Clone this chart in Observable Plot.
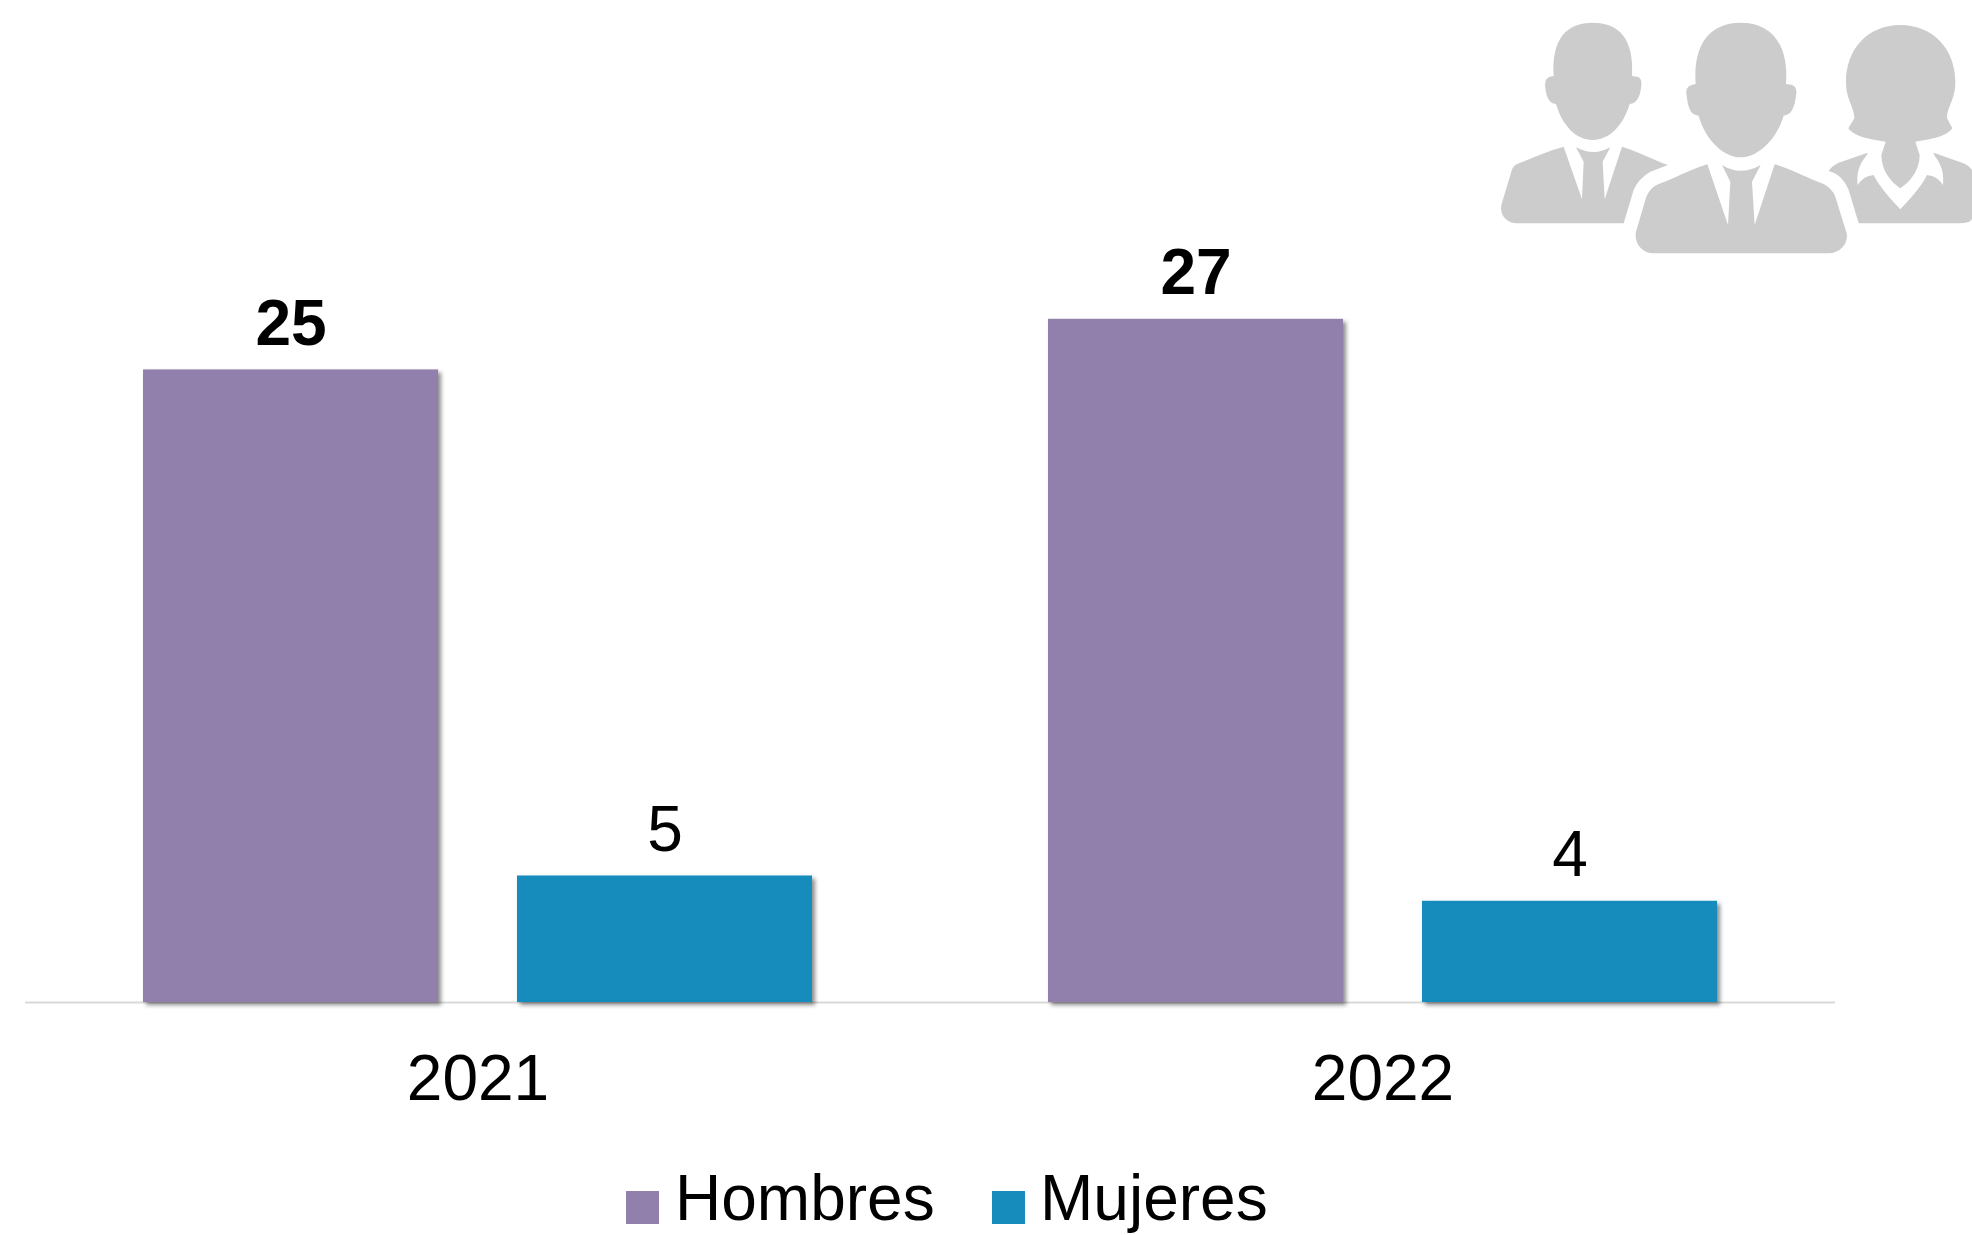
<!DOCTYPE html>
<html lang="es">
<head>
<meta charset="utf-8">
<script src="https://cdn.jsdelivr.net/npm/d3@7"></script>
<script src="https://cdn.jsdelivr.net/npm/@observablehq/plot@0.6"></script>
<style>
html,body{margin:0;padding:0;background:#fff;width:1972px;height:1235px;overflow:hidden;font-family:"Liberation Sans",Arial,sans-serif}
#wrap{position:relative;width:1972px;height:1235px;overflow:hidden}
#legend{position:absolute;left:0;top:1150px;width:1972px;height:85px;color:#000;font-size:64px}
#legend .sw{position:absolute;width:33px;height:33px;top:41px}
#legend .lb{position:absolute;top:18px;line-height:60px;height:60px;white-space:nowrap}
#icon{position:absolute;left:1472px;top:0;width:500px;height:270px}
</style>
</head>
<body>
<div id="wrap">
<div id="chart"></div>
<svg id="icon" viewBox="0 0 1500 810" fill="#cccccc" aria-hidden="true">
<path d="M245,228 C238,115 285,68 362,68 C440,68 487,115 480,228 L495,230 Q510,232 508,255 C505,290 495,310 473,312 C455,375 412,420 362,420 C312,420 270,375 252,312 C230,310 222,290 219,255 Q218,230 245,228 Z"/>
<path d="M275,440 C220,455 180,475 135,492 Q122,498 118,515 L88,615 C82,645 105,670 135,670 L455,670 L485,570 Q500,535 535,515 L588,495 C540,478 500,455 450,440 L398,598 L392,485 L415,442 Q365,470 312,442 L335,485 L330,598 Z"/>
<path d="M671,252 C662,125 720,68 806,68 C892,68 951,125 942,252 L958,254 Q975,258 973,280 C968,325 958,345 935,347 C915,415 860,472 806,472 C752,472 698,415 680,347 C655,345 648,325 643,280 Q640,256 671,252 Z"/>
<path d="M706,493 C650,510 610,535 560,552 Q535,562 523,590 L492,695 C485,730 510,760 545,760 L1070,760 C1105,760 1130,730 1124,700 L1090,590 Q1080,565 1055,552 C1005,535 965,510 908,493 L848,675 L840,545 L866,495 Q806,530 750,495 L775,545 L768,675 Z"/>
<path d="M1285,75 C1385,75 1450,150 1450,245 C1450,300 1425,320 1425,355 L1441,385 C1425,410 1375,418 1330,425 L1343,465 C1343,510 1315,545 1285,565 C1255,545 1228,510 1228,465 L1241,425 C1195,418 1145,410 1129,385 L1147,355 C1147,320 1122,300 1122,245 C1122,150 1185,75 1285,75 Z"/>
<path d="M1070,513 C1100,520 1120,545 1130,570 L1160,670 L1465,670 Q1500,668 1500,655 L1500,510 Q1490,495 1470,488 L1385,458 C1383,470 1420,490 1413,555 C1400,535 1385,528 1365,525 C1345,565 1310,600 1285,628 C1260,600 1225,565 1205,525 C1185,528 1170,535 1157,555 C1150,490 1187,470 1187,458 L1100,488 Q1080,497 1070,513 Z"/>
</svg>
<div id="legend"></div>
</div>
<script>
const years = ["2021", "2022"];
const series = ["Hombres", "Mujeres"];
const colors = ["#9180ab", "#168cbd"];
const hombres = [25, 27];
const mujeres = [5, 4];

const rows = years.flatMap((year, i) => [
  {year, group: series[0], value: hombres[i]},
  {year, group: series[1], value: mujeres[i]}
]);

const labelStyle = {
  x: "group", y: "value", fx: "year", text: d => String(d.value),
  fontSize: 64, fill: "#000", lineAnchor: "bottom", dy: -25
};

const chart = Plot.plot({
  width: 1972,
  height: 1150,
  marginLeft: 25,
  marginRight: 137,
  marginTop: 0,
  marginBottom: 148,
  style: {fontFamily: "'Liberation Sans', Arial, sans-serif", background: "#fff", color: "#000"},
  fx: {domain: years, padding: 0, label: null},
  x: {domain: series, paddingInner: 0.21, paddingOuter: 0.312, axis: null},
  y: {domain: [0, 39.6], axis: null},
  color: {domain: series, range: colors},
  marks: [
    Plot.ruleY([0], {stroke: "#d9d9d9", strokeWidth: 2}),
    Plot.barY(rows, {
      x: "group", y: "value", fx: "year", fill: "group",
      imageFilter: "drop-shadow(3px 3px 2px rgba(0,0,0,0.45))"
    }),
    Plot.text(rows.filter(d => d.group === series[0]), {...labelStyle, fontWeight: "bold"}),
    Plot.text(rows.filter(d => d.group === series[1]), labelStyle),
    Plot.axisFx({anchor: "bottom", tickSize: 0, tickPadding: 52, fontSize: 64, label: null, lineAnchor: "top"})
  ]
});
document.getElementById("chart").appendChild(chart);

const legend = document.getElementById("legend");
const swatchX = [626, 992];
const labelX = [675, 1040];
series.forEach((name, i) => {
  const sw = document.createElement("div");
  sw.className = "sw"; sw.style.left = swatchX[i] + "px"; sw.style.background = colors[i];
  const lb = document.createElement("div");
  lb.className = "lb"; lb.style.left = labelX[i] + "px"; lb.textContent = name;
  legend.append(sw, lb);
});
</script>
</body>
</html>
